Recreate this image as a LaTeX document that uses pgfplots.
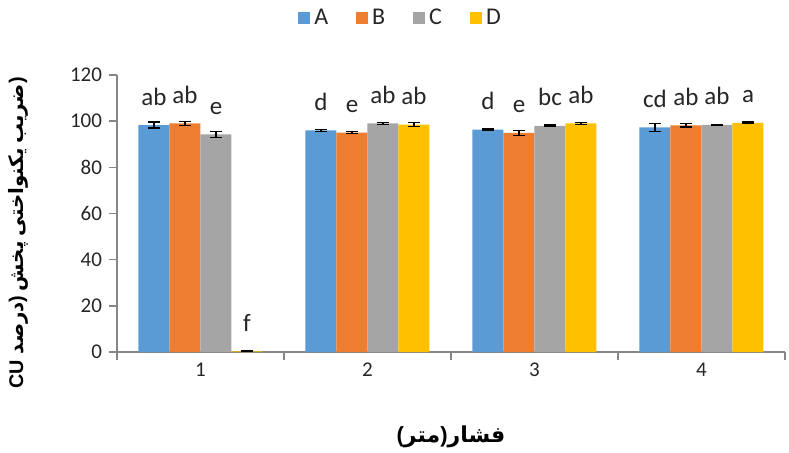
\documentclass[border=0pt]{standalone}
\usepackage{pgfplots}
\pgfplotsset{compat=1.18}
\usepackage{fontspec}
\setmainfont{Carlito}
\newfontfamily\farsi[Script=Arabic]{DejaVu Sans}
\newfontfamily\latinb{Liberation Sans}
\definecolor{cA}{HTML}{5B9BD5}
\definecolor{cB}{HTML}{ED7D31}
\definecolor{cC}{HTML}{A5A5A5}
\definecolor{cD}{HTML}{FFC000}
\definecolor{axgray}{HTML}{868686}
\begin{document}
\begin{tikzpicture}
\useasboundingbox (-58.5pt,-50pt) rectangle (336pt,176pt);
\begin{axis}[
  at={(0,0)}, anchor=south west,
  scale only axis, width=334pt, height=138.5pt,
  xmin=0.5, xmax=4.5, ymin=0, ymax=120,
  ybar=0pt, bar width=15.5pt,
  axis x line=bottom, axis y line=left,
  axis line style={-, draw=axgray, line width=0.7pt},
  tick style={draw=axgray, line width=0.7pt},
  tick align=outside, major tick length=4pt,
  ytick={0,20,...,120},
  xtick={0.5,1.5,2.5,3.5,4.5}, xticklabels={},
  extra x ticks={1,2,3,4}, extra x tick labels={1,2,3,4},
  extra x tick style={major tick length=0pt, xticklabel style={yshift=-2pt}},
  ticklabel style={font=\fontsize{10.5}{12}\selectfont, text=black!85},
  /pgf/number format/assume math mode=true,
  point meta=explicit symbolic,
  nodes near coords={\pgfplotspointmeta},
  nodes near coords style={anchor=base, yshift=10pt, font=\fontsize{12.5}{14}\selectfont, text=black!85},
  error bars/y dir=both, error bars/y explicit,
  error bars/error bar style={black, line width=0.6pt},
  error bars/error mark options={rotate=90, mark size=3pt, black, line width=0.6pt},
  legend columns=4,
  legend style={draw=none, fill=none, at={(0.426,1.206)}, anchor=center,
    font=\fontsize{12}{13}\selectfont, text=black!85,
    /tikz/every even column/.append style={column sep=12pt}},
  legend image code/.code={\fill[#1] (0pt,-3pt) rectangle (6pt,3pt);},
  ylabel={\fontsize{9.9}{10}\selectfont\bfseries{\latinb CU }{\farsi درصد}{\latinb )}\ {\farsi پخش}\ {\farsi یکنواختی}\ {\farsi ضریب}{\latinb )}},
  ylabel style={at={(axis description cs:-0.148,0.43)}, anchor=center},
  xlabel={\fontsize{11}{12}\selectfont\bfseries{\latinb (}{\farsi متر}{\latinb )}{\farsi فشار}},
  xlabel style={at={(axis description cs:0.5,-0.307)}, anchor=center},
]
\addplot[fill=cA, draw=none] coordinates {(1,98.3) +- (0,1.3) [ab] (2,96.0) +- (0,0.4) [d] (3,96.3) +- (0,0.3) [d] (4,97.3) +- (0,1.7) [cd]};
\addplot[fill=cB, draw=none] coordinates {(1,99.0) +- (0,0.8) [ab] (2,95.0) +- (0,0.4) [e] (3,94.9) +- (0,1.0) [e] (4,98.2) +- (0,0.7) [ab]};
\addplot[fill=cC, draw=none] coordinates {(1,94.3) +- (0,1.3) [e] (2,99.0) +- (0,0.3) [ab] (3,98.0) +- (0,0.3) [bc] (4,98.4) +- (0,0.3) [ab]};
\addplot[fill=cD, draw=none] coordinates {(1,0.3) +- (0,0.1) [f] (2,98.5) +- (0,0.9) [ab] (3,99.0) +- (0,0.3) [ab] (4,99.3) +- (0,0.3) [a]};
\legend{A,B,C,D}
\end{axis}
\end{tikzpicture}
\end{document}
